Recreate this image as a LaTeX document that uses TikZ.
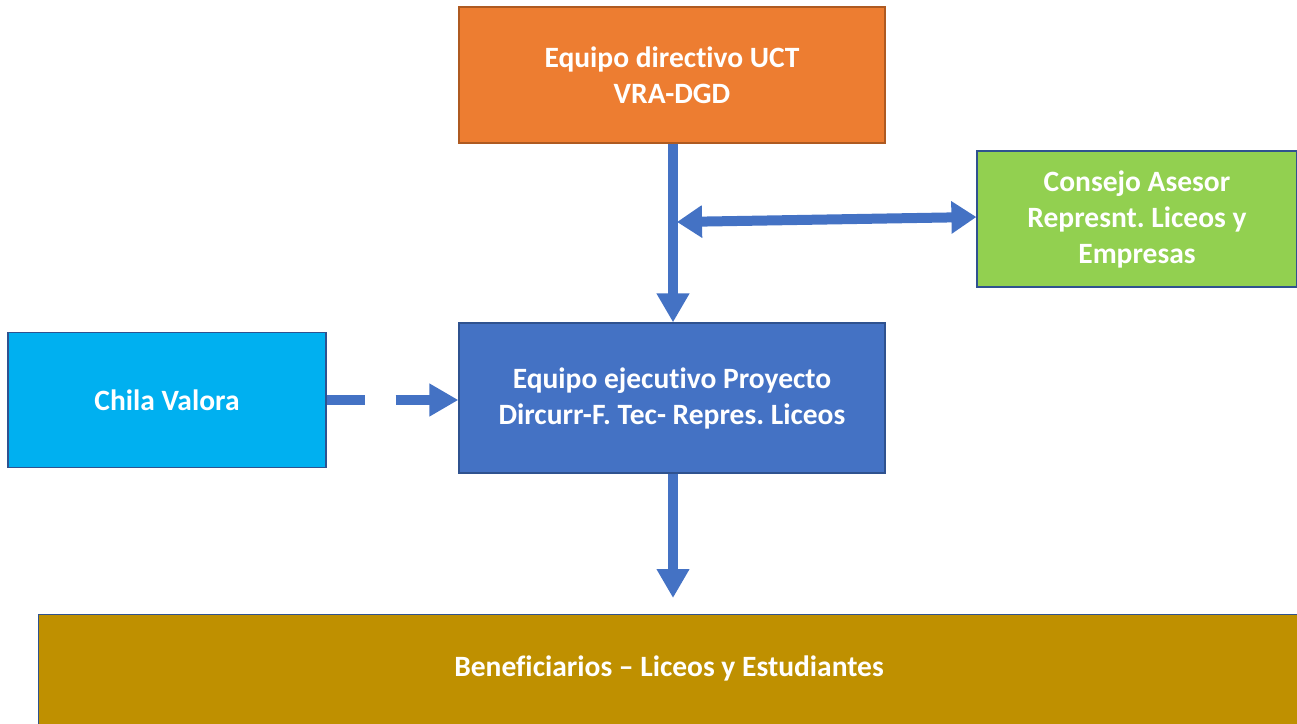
\documentclass[tikz,border=0pt]{standalone}
\usepackage{fontspec}
\setmainfont[Ligatures=NoCommon]{Carlito}
\usetikzlibrary{arrows.meta}
\frenchspacing
\definecolor{orangeF}{HTML}{ED7D31}
\definecolor{orangeD}{HTML}{AE5A21}
\definecolor{greenF}{HTML}{92D050}
\definecolor{cyanF}{HTML}{00B0F0}
\definecolor{blueF}{HTML}{4472C4}
\definecolor{blueD}{HTML}{2F528F}
\definecolor{goldF}{HTML}{BF9000}
\tikzset{
  box/.style={draw=blueD, line width=1.2pt, inner sep=0pt, text=white,
    font=\fontsize{29.5}{36}\selectfont\bfseries, align=center},
  conn/.style={draw=blueF, line width=10pt,
    -{Triangle[length=29pt,width=31pt]}},
}
\begin{document}
\begin{tikzpicture}[x=1pt,y=-1pt]
\useasboundingbox (0,0) rectangle (1297,723);
\begin{scope}
\clip (0,0) rectangle (1297,723);
\node[box, fill=orangeF, draw=orangeD, minimum width=426pt, minimum height=136pt] (uct) at (672,75) {Equipo directivo UCT\\VRA-DGD};
\node[box, fill=greenF, minimum width=320pt, minimum height=136pt] (cons) at (1137,219) {Consejo Asesor\\Represnt. Liceos y\\Empresas};
\node[box, fill=cyanF, minimum width=318pt, minimum height=135pt] (chila) at (167,400) {Chila Valora};
\node[box, fill=blueF, minimum width=426pt, minimum height=150pt] (exec) at (672,398) {Equipo ejecutivo Proyecto\\Dircurr-F. Tec- Repres. Liceos};
\node[box, fill=goldF, minimum width=1270pt, minimum height=118pt, anchor=north west] (ben) at (38,614) {};
\node[text=white, font=\fontsize{29.5}{36}\selectfont\bfseries] (bentext) at (669,668) {Beneficiarios – Liceos y Estudiantes};
\end{scope}
\coordinate (junc) at (677,222);
\coordinate (benend) at (673,598);
\draw[conn] (uct.south -| 673,0) -- (exec.north -| 673,0);
\draw[conn, {Triangle[length=25pt,width=31pt]}-{Triangle[length=25pt,width=31pt]}] (junc) -- (cons.west |- 0,217);
\draw[conn, dash pattern=on 38pt off 31pt] (chila.east) -- (exec.west |- chila.east);
\draw[conn] (exec.south -| 673,0) -- (benend);
\end{tikzpicture}
\end{document}
